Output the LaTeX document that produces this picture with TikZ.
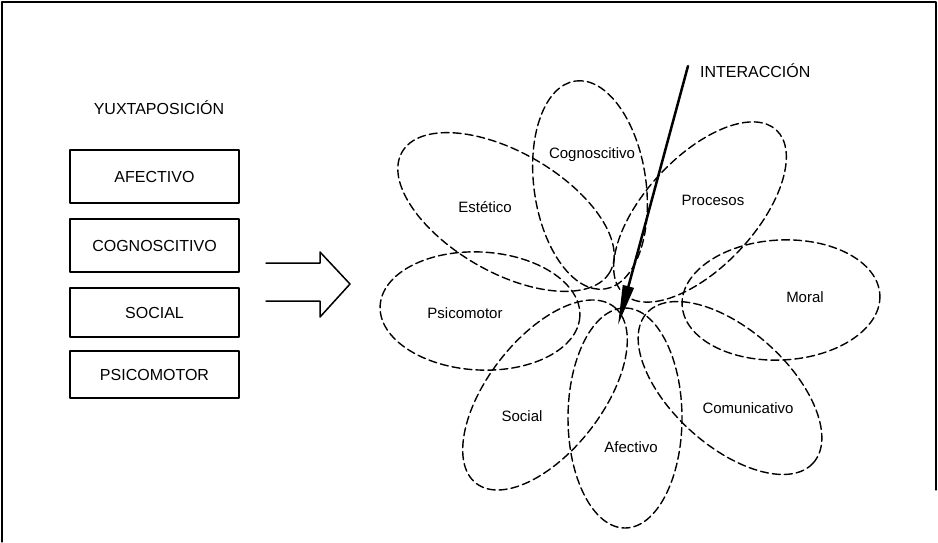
\documentclass[tikz,border=0pt]{standalone}
\usepackage{fontspec}
\setmainfont{Liberation Sans}
\usepackage{tikz}
\usetikzlibrary{arrows.meta}
\usetikzlibrary{positioning}

\begin{document}
\begin{tikzpicture}[
			% one unit = one pixel of the page, y grows downwards
			x=1pt, y=-1pt,
			line join=round, line cap=round,
			dimbox/.style={draw, line width=1.6pt, minimum width=169pt, inner sep=0pt,
					font=\fontsize{16}{18}\selectfont},
			petal/.style={draw, line width=1.4pt, dash pattern=on 8pt off 4pt},
			petaltext/.style={font=\fontsize{15}{17}\selectfont, inner sep=1pt}
		]

		\useasboundingbox (0,0) rectangle (938,542);

		%-------------------
		% Frame
		%-------------------
		\draw[line width=1.2pt] (2,542) -- (2,2) -- (936,2) -- (936,490);

		%-------------------
		% Juxtaposition (left)
		%-------------------
		\node[font=\fontsize{16}{18}\selectfont] (juxta) at (159,108) {YUXTAPOSICIÓN};

		\node[dimbox, minimum height=53pt] (bafec) at (154.5,176.5) {AFECTIVO};
		\node[dimbox, minimum height=53pt] (bcogn) at (154.5,245.5) {COGNOSCITIVO};
		\node[dimbox, minimum height=49pt] (bsoc)  at (154.5,312.5) {SOCIAL};
		\node[dimbox, minimum height=47pt] (bpsic) at (154.5,374.5) {PSICOMOTOR};

		%-------------------
		% Block arrow
		%-------------------
		\draw[line width=1.5pt]
		(266,263) -- (320,263) -- (320,252) -- (350,284) -- (320,317) -- (320,301) -- (266,301);

		%-------------------
		% Interaction (right): petals
		%-------------------
		\foreach \cx/\cy/\ang/\ra/\rb in {
				590/185/98/105/56,
				506/212/-30/120/60,
				700/212/47/112/55,
				781/300/3/99/60,
				730/388/-42/112/58,
				625/418/90/110/57,
				545/395/52/112/57,
				480/311/-3/100/59
			}{
				\draw[petal, shift={(\cx,\cy)}, rotate=\ang] (0,0) ellipse [x radius=\ra, y radius=\rb];
			}

		% petal labels
		\node[petaltext] (pcogn) at (592,155) {Cognoscitivo};
		\node[petaltext] (pest)  at (485,207) {Estético};
		\node[petaltext] (pproc) at (713,200) {Procesos};
		\node[petaltext] (pmor)  at (805,297) {Moral};
		\node[petaltext] (ppsic) at (465,313) {Psicomotor};
		\node[petaltext] (psoc)  at (522,416) {Social};
		\node[petaltext] (pafec) at (631,447) {Afectivo};
		\node[petaltext] (pcom)  at (748,408) {Comunicativo};

		%-------------------
		% Interaction arrow
		%-------------------
		\coordinate (itop) at (688,66);
		\coordinate (itip) at (618,325);
		\node[font=\fontsize{16}{18}\selectfont, anchor=west, inner sep=1pt] (inter) at (699,71) {INTERACCIÓN};
		\draw[line width=2.5pt, -{Triangle[length=40pt, width=11pt]}] (itop) -- (itip);

	\end{tikzpicture}
\end{document}
